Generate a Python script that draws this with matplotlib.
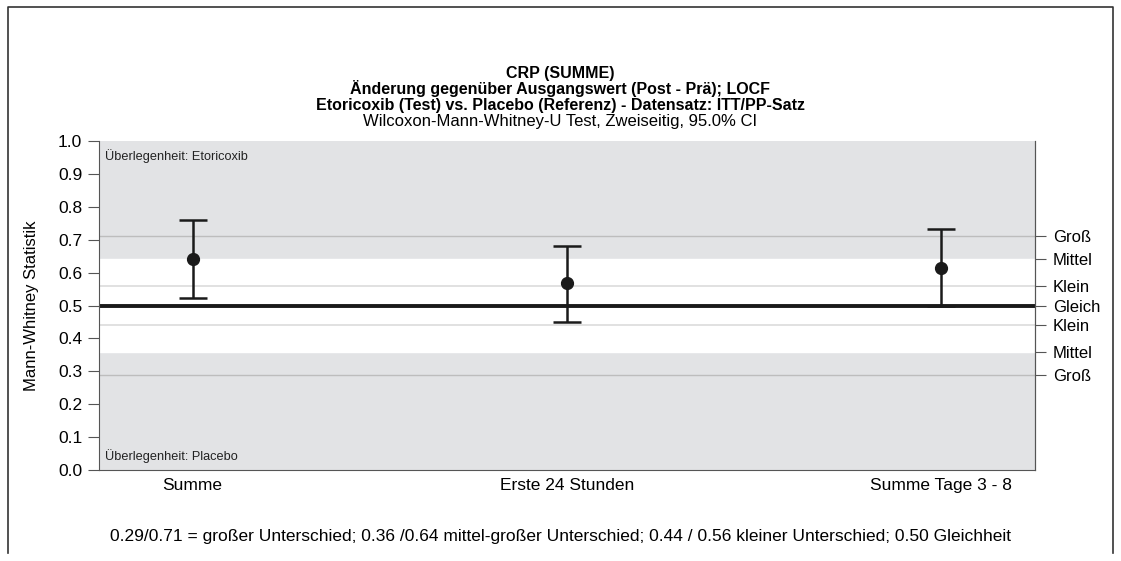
import matplotlib.pyplot as plt
from matplotlib.lines import Line2D

plt.rcParams['font.family'] = ['Liberation Sans', 'DejaVu Sans']

# Mann-Whitney Schätzer mit 95%-KI je Zeitraum
kategorien = ["Summe", "Erste 24 Stunden", "Summe Tage 3 - 8"]
mw_wert = [0.64, 0.567, 0.615]
ki_unten = [0.523, 0.451, 0.50]
ki_oben = [0.76, 0.682, 0.733]

# Effektstärke-Grenzen (rechte Achse)
grenzen = [0.71, 0.64, 0.56, 0.50, 0.44, 0.36, 0.29]
grenz_labels = ["Groß", "Mittel", "Klein", "Gleich", "Klein", "Mittel", "Groß"]

titel_zeilen = ["CRP (SUMME)",
                "Änderung gegenüber Ausgangswert (Post - Prä); LOCF",
                "Etoricoxib (Test) vs. Placebo (Referenz) - Datensatz: ITT/PP-Satz"]
untertitel = "Wilcoxon-Mann-Whitney-U Test, Zweiseitig, 95.0% CI"
fussnote = ("0.29/0.71 = großer Unterschied; 0.36 /0.64 mittel-großer Unterschied; "
            "0.44 / 0.56 kleiner Unterschied; 0.50 Gleichheit")

fs = 12.5

fig = plt.figure(figsize=(11.21, 5.61), dpi=100)
ax = fig.add_axes([99 / 1121, 1 - 470 / 561, 936 / 1121, 329 / 561])

# Hintergrund: grau, mit weißem Band zwischen mittleren Grenzen
ax.set_facecolor("#e2e3e5")
ax.axhspan(0.36, 0.64, color="white", zorder=0)
for g in (0.29, 0.71):
    ax.axhline(g, color="#bdbdbd", lw=1, zorder=1)
for g in (0.44, 0.56):
    ax.axhline(g, color="#dcdcdc", lw=1.2, zorder=1)
ax.axhline(0.5, color="#1a1a1a", lw=2.8, zorder=2)

x = list(range(1, len(kategorien) + 1))
fehler = [[m - u for m, u in zip(mw_wert, ki_unten)],
          [o - m for m, o in zip(mw_wert, ki_oben)]]
ax.errorbar(x, mw_wert, yerr=fehler, fmt="o", color="#1a1a1a", ms=8.5,
            elinewidth=1.8, capsize=10, capthick=1.8, zorder=3)

ax.set_xlim(0.75, 3.25)
ax.set_ylim(0, 1)
ax.set_xticks(x)
ax.set_xticklabels(kategorien, fontsize=fs)
ax.tick_params(axis="x", length=0, pad=6)
ax.set_yticks([i / 10 for i in range(11)])
ax.set_yticklabels([f"{i / 10:.1f}" for i in range(11)], fontsize=fs)
ax.tick_params(axis="y", length=8, color="#555555", pad=4)
ax.set_ylabel("Mann-Whitney Statistik", fontsize=12, labelpad=14)

for s in ("left", "bottom", "right"):
    ax.spines[s].set_color("#555555")
ax.spines["top"].set_visible(False)

ax2 = ax.twinx()
ax2.set_ylim(0, 1)
ax2.set_yticks(grenzen)
ax2.set_yticklabels(grenz_labels, fontsize=12)
ax2.tick_params(axis="y", length=8, color="#555555", pad=5)
for s in ("top", "left", "bottom"):
    ax2.spines[s].set_visible(False)
ax2.spines["right"].set_color("#555555")

ax.text(0.006, 0.975, "Überlegenheit: Etoricoxib", transform=ax.transAxes,
        fontsize=9.2, va="top", color="#222222")
ax.text(0.006, 0.022, "Überlegenheit: Placebo", transform=ax.transAxes,
        fontsize=9.2, va="bottom", color="#222222")

# Titelzeilen, jeweils an der Grundlinie ausgerichtet
for i, zeile in enumerate(titel_zeilen):
    fig.text(0.5, 1 - (78 + 16 * i) / 561, zeile, ha="center", va="baseline",
             fontsize=11.5, fontweight="bold")
fig.text(0.5, 1 - 126 / 561, untertitel, ha="center", va="baseline", fontsize=12)
fig.text(0.5, 1 - 537 / 561, fussnote, ha="center", va="center", fontsize=fs)

# Rahmen um die Grafik (unten offen)
rx0, rx1, ry0, ry1 = 8 / 1121, 1113 / 1121, 1 - 553 / 561, 1 - 7 / 561
fig.add_artist(Line2D([rx0, rx0, rx1, rx1], [ry0, ry1, ry1, ry0],
                      color="#333333", lw=1.2, transform=fig.transFigure))

fig.savefig("out.png", dpi=100)
